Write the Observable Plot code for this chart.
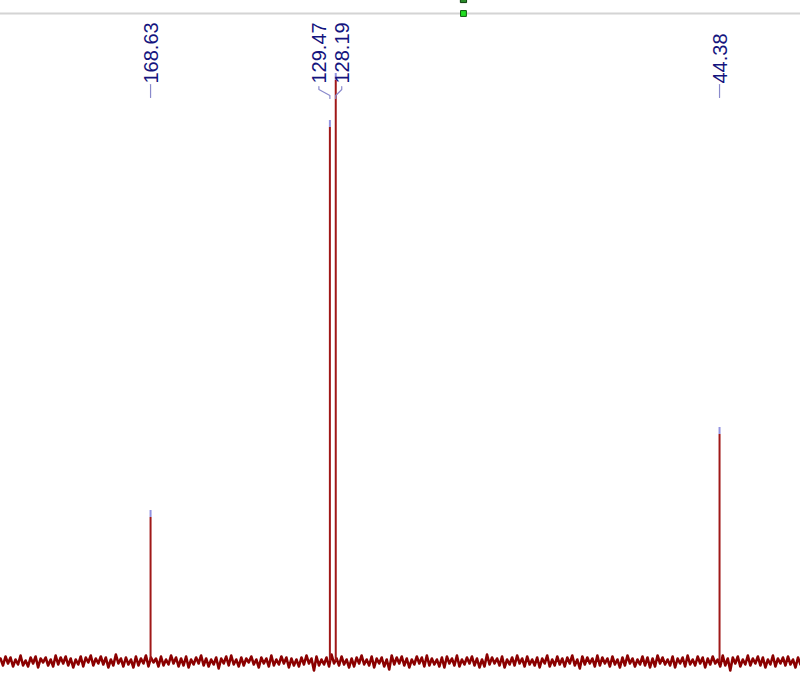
<!DOCTYPE html>
<html>
<head>
<meta charset="utf-8">
<script src="https://cdn.jsdelivr.net/npm/d3@7"></script>
<script src="https://cdn.jsdelivr.net/npm/@observablehq/plot@0.6"></script>
<style>
  html, body { margin: 0; padding: 0; background: #fff; }
  #chart svg { display: block; }
</style>
</head>
<body>
<div id="chart"></div>
<script>
// ---- data ----
const peakPpm = [168.63, 129.47, 128.19, 44.38];
const peakHeight = [151, 541, 588, 234];
const peakLabels = ["168.63", "129.47", "128.19", "44.38"];
const ppmRange = [201.4, 26.7];
const markerPpm = [100.3];
const noise = [
3,-4,5,-2,4,-5,2,-3,6,-4,1,-5,4,-2,5,-6,3,-1,4,-4,
2,-5,6,-3,4,-2,5,-4,3,-6,2,-3,5,-5,4,-1,6,-4,3,-2,
5,-3,4,-6,2,-4,7,-2,3,-5,4,-3,2,-6,5,-4,3,-2,6,-5,
4,-1,3,-5,5,-4,2,-3,6,-2,4,-5,3,-4,5,-6,2,-3,4,-2,
6,-4,3,-5,2,-3,4,-7,3,-2,5,-4,6,-3,2,-5,4,-4,3,-1,
5,-3,2,-6,4,-2,3,-5,6,-4,2,-3,5,-2,4,-6,3,-4,2,-5,
4,-3,6,-2,3,-9,5,-4,2,-3,4,-5,7,-2,3,-4,5,-3,2,-6,
3,-5,4,-2,6,-3,2,-4,5,-6,3,-2,4,-5,2,-8,6,-3,4,-2,
5,-4,3,-6,2,-3,5,-2,4,-5,6,-4,3,-3,2,-5,4,-6,5,-2,
3,-4,6,-5,2,-3,4,-2,5,-4,3,-6,2,-5,7,-3,4,-2,3,-4,
5,-6,2,-3,4,-4,6,-2,3,-5,5,-3,2,-4,4,-6,3,-2,6,-5,
2,-4,5,-3,3,-5,4,-2,6,-4,2,-7,5,-3,4,-2,3,-5,6,-4,
4,-2,3,-5,5,-3,2,-6,4,-4,6,-2,3,-5,2,-3,5,-4,4,-6,
3,-5,6,-2,4,-3,2,-4,5,-6,3,-2,4,-5,6,-3,2,-4,5,-2,
4,-6,3,-3,5,-2,2,-5,6,-4,3,-9,4,-2,5,-5,2,-3,6,-4,
3,-2,5,-4,4,-6,2,-3,6,-5,3,-2,4,-4,5,-3,2,-6,4,-3
];

// ---- layout ----
const W = 800, H = 697, MT = 13, MB = 36;
const yTop = H - MT - MB;             // intensity at the top of the frame
const pxPerPpm = W / (ppmRange[0] - ppmRange[1]);
const yAtPx = px => (H - MB) - px;     // frame pixel row -> intensity units
const TIP = 7;
const TEXT_END = 83;                   // pixel row where the rotated labels start

const peaks = peakPpm.map((p, i) => ({ppm: p, h: peakHeight[i], label: peakLabels[i]}));
const spectrum = noise.map((v, i) => ({
  ppm: ppmRange[0] - i * (ppmRange[0] - ppmRange[1]) / (noise.length - 1),
  v
}));

// label clustering: close peaks get spread labels with connectors
const pairShift = {"129.47": -11, "128.19": 6};
const singles = peaks.filter(d => !(d.label in pairShift));
const pairs = peaks.filter(d => d.label in pairShift);

const connectors = [];
singles.forEach(d => {
  connectors.push({id: d.label, ppm: d.ppm, y: yAtPx(TEXT_END + 1)});
  connectors.push({id: d.label, ppm: d.ppm, y: yAtPx(97)});
});
pairs.forEach(d => {
  const lp = d.ppm - pairShift[d.label] / pxPerPpm;
  connectors.push({id: d.label, ppm: lp, y: yAtPx(TEXT_END + 3)});
  connectors.push({id: d.label, ppm: lp, y: yAtPx(89)});
  connectors.push({id: d.label, ppm: d.ppm, y: yAtPx(95)});
  connectors.push({id: d.label, ppm: d.ppm, y: yAtPx(98)});
});

const labelColor = "#14147e";
const font = "Liberation Sans, Arial, sans-serif";
const textDx = -7;
const fs = 20;

const chart = Plot.plot({
  width: W,
  height: H,
  marginTop: MT,
  marginBottom: MB,
  marginLeft: 0,
  marginRight: 0,
  x: {domain: ppmRange, axis: null},
  y: {domain: [0, yTop], axis: null},
  style: {background: "#fff", fontFamily: font},
  marks: [
    Plot.ruleY([yTop], {stroke: "#d4d4d4", strokeWidth: 2}),
    Plot.dot(markerPpm, {x: d => d, y: () => yTop + 14, symbol: "square", r: 3.5, fill: "#2a8a2a", stroke: "#0d3d0d", strokeWidth: 1}),
    Plot.dot(markerPpm, {x: d => d, y: () => yTop, symbol: "square", r: 3.3, fill: "#22dd22", stroke: "#0c5c0c", strokeWidth: 1}),
    Plot.line(spectrum, {x: "ppm", y: "v", stroke: "#8b0000", strokeWidth: 2.6}),
    Plot.ruleX(peaks, {x: "ppm", y1: 0, y2: d => d.h - TIP, stroke: "#a01818", strokeWidth: 2}),
    Plot.ruleX(peaks, {x: "ppm", y1: d => d.h - TIP, y2: "h", stroke: "#9393e0", strokeWidth: 2}),
    Plot.text(singles, {
      x: "ppm", text: "label", frameAnchor: "top", dy: TEXT_END - MT, dx: textDx,
      rotate: -90, textAnchor: "start", fill: labelColor, fontSize: fs, fontFamily: font
    }),
    ...pairs.map(d => Plot.text([d], {
      x: "ppm", text: "label", frameAnchor: "top", dy: TEXT_END - MT, dx: pairShift[d.label] + textDx,
      rotate: -90, textAnchor: "start", fill: labelColor, fontSize: fs, fontFamily: font
    })),
    Plot.line(connectors, {x: "ppm", y: "y", z: "id", stroke: "#8a8acc", strokeWidth: 1.2})
  ]
});
document.getElementById("chart").appendChild(chart);
</script>
</body>
</html>
